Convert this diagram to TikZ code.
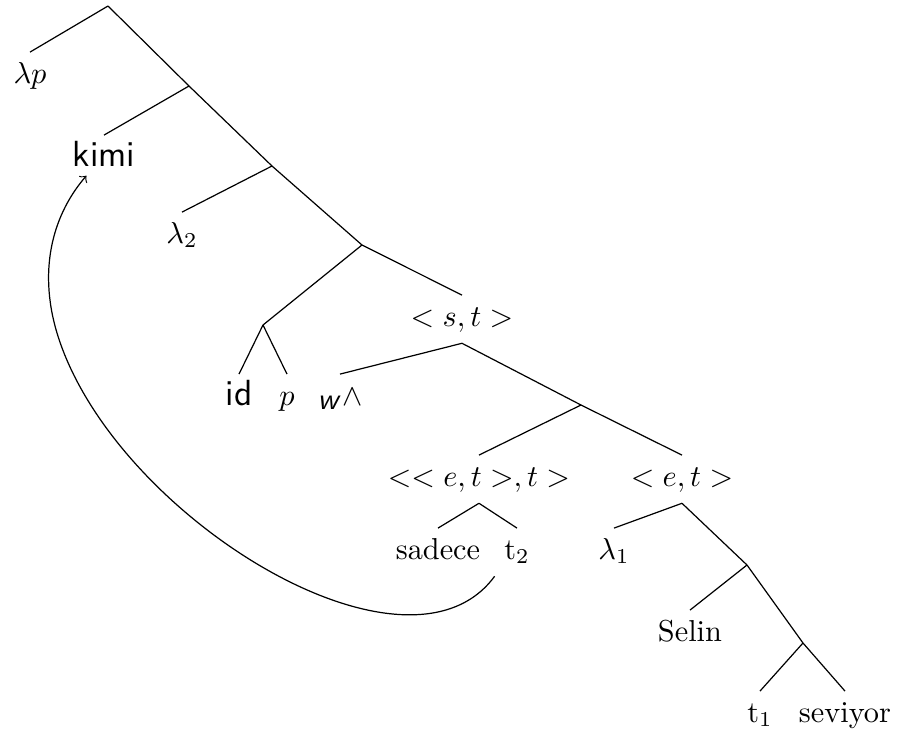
\documentclass[tikz,border=0pt]{standalone}
\begin{document}
\begin{tikzpicture}[x=0.33pt,y=-0.33pt,
  lab/.style={anchor=base,inner sep=3pt,text height=0.7em,text depth=0.25em},
  sf/.style={lab,font=\large\sffamily}]
\useasboundingbox (0,0) rectangle (897,734);
% branching points
\coordinate (r0) at (108,6);
\coordinate (n1) at (189,86);
\coordinate (n2) at (272,166);
\coordinate (n3) at (362,245);
\coordinate (n4) at (263,325);
\coordinate (n5) at (581,405);
\coordinate (n6) at (747,565);
\coordinate (n7) at (803,643);
% labels
\node[lab] (lp) at (30,83) {$\lambda p$};
\node[sf,text depth=0pt] (kimi) at (104,166) {kimi};
\node[lab] (l2) at (182,243) {$\lambda_2$};
\node[lab] (st) at (462,326) {$<s,t>$};
\node[sf] (id) at (239,405) {id};
\node[lab] (p) at (287,405) {$p$};
\node[lab] (wedge) at (340,405) {$_{\textsf{\textsl{w}}}\wedge$};
\node[lab] (ett) at (479,486) {$<<e,t>,t>$};
\node[lab] (et) at (682,486) {$<e,t>$};
\node[lab] (sadece) at (438,559) {sadece};
\node[lab] (t2) at (517,559) {t$_2$};
\node[lab] (l1) at (614,559) {$\lambda_1$};
\node[lab] (selin) at (690,641) {Selin};
\node[lab] (t1) at (760,722) {t$_1$};
\node[lab] (seviyor) at (845,722) {seviyor};
% edges
\draw (r0) -- (lp.north);
\draw (r0) -- (n1) -- (n2) -- (n3);
\draw (n1) -- (kimi.north);
\draw (n2) -- (l2.north);
\draw (n3) -- (n4);
\draw (n3) -- (st.north);
\draw (n4) -- (id.north);
\draw (n4) -- (p.north);
\draw (st.south) -- (wedge.north);
\draw (st.south) -- (n5);
\draw (n5) -- (ett.north);
\draw (n5) -- (et.north);
\draw (ett.south) -- (sadece.north);
\draw (ett.south) -- (t2.north);
\draw (et.south) -- (l1.north);
\draw (et.south) -- (n6);
\draw (n6) -- (selin.north);
\draw (n6) -- (n7);
\draw (n7) -- (t1.north);
\draw (n7) -- (seviyor.north);
% movement arrow t2 -> kimi
\coordinate (bend) at (57,333);
\draw[->] (t2.south west) .. controls (407,696) and (112,515) .. (bend)
  .. controls (37,266) and (55,212) .. (kimi);
\end{tikzpicture}
\end{document}
